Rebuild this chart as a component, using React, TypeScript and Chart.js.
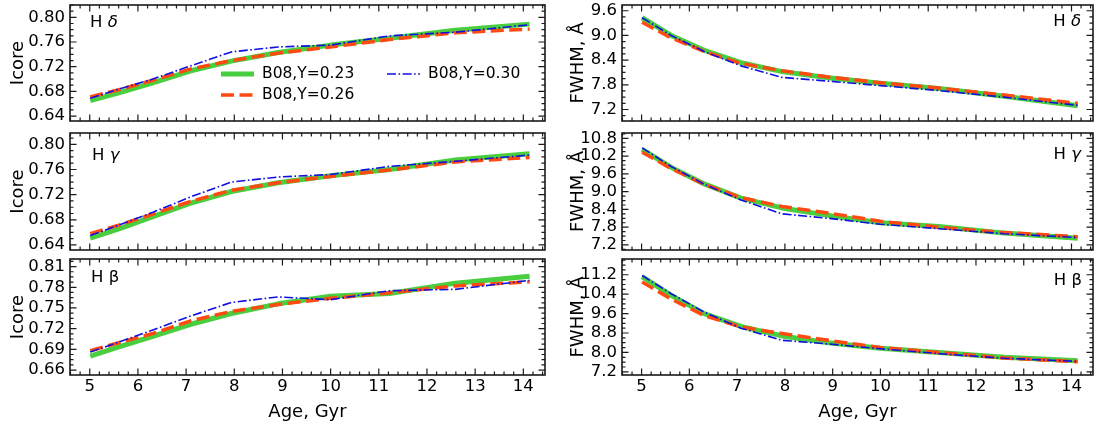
import { useEffect, useRef } from "react";
import { Chart, registerables, ChartConfiguration, Plugin } from "chart.js";

Chart.register(...registerables);
Chart.defaults.font.family = '"DejaVu Sans", sans-serif';

// ages of the model grid, Gyr
const ageGyr = [5.01, 5.62, 6.31, 7.08, 7.94, 8.91, 10.0, 11.22, 12.59, 14.13];
const seriesLabels = ["B08,Y=0.23", "B08,Y=0.26", "B08,Y=0.30"];

// Icore
const icoreDelta23 = [0.665, 0.678, 0.694, 0.713, 0.729, 0.743, 0.755, 0.766, 0.779, 0.789];
const icoreDelta26 = [0.671, 0.683, 0.698, 0.716, 0.730, 0.742, 0.752, 0.764, 0.775, 0.781];
const icoreDelta30 = [0.669, 0.684, 0.700, 0.721, 0.744, 0.752, 0.755, 0.770, 0.776, 0.788];

const icoreGamma23 = [0.651, 0.666, 0.685, 0.706, 0.725, 0.739, 0.750, 0.760, 0.775, 0.785];
const icoreGamma26 = [0.658, 0.672, 0.689, 0.709, 0.727, 0.739, 0.749, 0.759, 0.772, 0.779];
const icoreGamma30 = [0.655, 0.672, 0.692, 0.716, 0.740, 0.748, 0.752, 0.765, 0.773, 0.783];

const icoreBeta23 = [0.680, 0.694, 0.709, 0.726, 0.742, 0.756, 0.767, 0.771, 0.786, 0.796];
const icoreBeta26 = [0.688, 0.700, 0.713, 0.731, 0.745, 0.755, 0.764, 0.772, 0.782, 0.788];
const icoreBeta30 = [0.686, 0.701, 0.718, 0.738, 0.758, 0.766, 0.762, 0.775, 0.777, 0.790];

// FWHM, Angstrom
const fwhmDelta23 = [9.43, 9.0, 8.64, 8.34, 8.12, 7.97, 7.84, 7.71, 7.52, 7.29];
const fwhmDelta26 = [9.32, 8.94, 8.61, 8.32, 8.14, 7.99, 7.85, 7.72, 7.55, 7.35];
const fwhmDelta30 = [9.43, 9.0, 8.61, 8.26, 7.98, 7.89, 7.78, 7.66, 7.5, 7.3];

const fwhmGamma23 = [10.43, 9.82, 9.26, 8.78, 8.45, 8.2, 7.95, 7.82, 7.6, 7.43];
const fwhmGamma26 = [10.33, 9.78, 9.25, 8.8, 8.5, 8.28, 8.0, 7.8, 7.62, 7.48];
const fwhmGamma30 = [10.48, 9.85, 9.25, 8.72, 8.25, 8.1, 7.9, 7.75, 7.58, 7.45];

const fwhmBeta23 = [11.12, 10.35, 9.6, 9.07, 8.68, 8.4, 8.17, 8.0, 7.8, 7.66];
const fwhmBeta26 = [10.9, 10.2, 9.52, 9.05, 8.78, 8.5, 8.2, 8.0, 7.77, 7.62];
const fwhmBeta30 = [11.17, 10.42, 9.66, 9.0, 8.5, 8.35, 8.15, 7.95, 7.76, 7.63];

// tick labels
const ageTicks = [5, 6, 7, 8, 9, 10, 11, 12, 13, 14];
const icoreTicks = [0.64, 0.68, 0.72, 0.76, 0.8];
const icoreBetaTicks = [0.66, 0.69, 0.72, 0.75, 0.78, 0.81];
const fwhmDeltaTicks = [7.2, 7.8, 8.4, 9.0, 9.6];
const fwhmGammaTicks = [7.2, 7.8, 8.4, 9.0, 9.6, 10.2, 10.8];
const fwhmBetaTicks = [7.2, 8.0, 8.8, 9.6, 10.4, 11.2];

const FONT = 16.5;
const TITLE_FONT = 18;
const lineStyles = [
  { color: "rgb(72,206,62)", width: 5, dash: [] as number[], order: 3 },
  { color: "#ff4a12", width: 3.5, dash: [13, 5.5], order: 2 },
  { color: "#1010e0", width: 1.6, dash: [9, 2.5, 1.6, 2.5], order: 1 },
];

const COLS = [
  { left: 0, width: 560, axisW: 70, padR: 15, titlePad: 8 },
  { left: 560, width: 540, axisW: 62, padR: 7, titlePad: 8 },
];
const ROWS = [
  { top: 5, bottom: 121 },
  { top: 133, bottom: 250 },
  { top: 259, bottom: 375 },
];
const PAD = 25;
const PAGE_H = 428;

type PanelDef = {
  key: string;
  col: number;
  row: number;
  series: number[][];
  yMin: number;
  yMax: number;
  yTicks: number[];
  yMinor: number;
  decimals: number;
  yTitle: string;
  label: [string, boolean][];
  labelRight: boolean;
  labelDx: number;
  labelDy: number;
  legend?: boolean;
};

const panels: PanelDef[] = [
  { key: "tl", col: 0, row: 0, series: [icoreDelta23, icoreDelta26, icoreDelta30], yMin: 0.632, yMax: 0.82, yTicks: icoreTicks, yMinor: 0.01, decimals: 2, yTitle: "Icore", label: [["H ", false], ["δ", true]], labelRight: false, labelDx: 20, labelDy: 18, legend: true },
  { key: "ml", col: 0, row: 1, series: [icoreGamma23, icoreGamma26, icoreGamma30], yMin: 0.632, yMax: 0.818, yTicks: icoreTicks, yMinor: 0.01, decimals: 2, yTitle: "Icore", label: [["H ", false], ["γ", true]], labelRight: false, labelDx: 22, labelDy: 23 },
  { key: "bl", col: 0, row: 2, series: [icoreBeta23, icoreBeta26, icoreBeta30], yMin: 0.6528, yMax: 0.821, yTicks: icoreBetaTicks, yMinor: 0.0075, decimals: 2, yTitle: "Icore", label: [["H β", false]], labelRight: false, labelDx: 21, labelDy: 19 },
  { key: "tr", col: 1, row: 0, series: [fwhmDelta23, fwhmDelta26, fwhmDelta30], yMin: 6.92, yMax: 9.74, yTicks: fwhmDeltaTicks, yMinor: 0.15, decimals: 1, yTitle: "FWHM, Å", label: [["H ", false], ["δ", true]], labelRight: true, labelDx: 12, labelDy: 17 },
  { key: "mr", col: 1, row: 1, series: [fwhmGamma23, fwhmGamma26, fwhmGamma30], yMin: 7.03, yMax: 10.98, yTicks: fwhmGammaTicks, yMinor: 0.15, decimals: 1, yTitle: "FWHM, Å", label: [["H ", false], ["γ", true]], labelRight: true, labelDx: 12, labelDy: 22 },
  { key: "br", col: 1, row: 2, series: [fwhmBeta23, fwhmBeta26, fwhmBeta30], yMin: 7.07, yMax: 11.85, yTicks: fwhmBetaTicks, yMinor: 0.2, decimals: 1, yTitle: "FWHM, Å", label: [["H β", false]], labelRight: true, labelDx: 11, labelDy: 22 },
];

const X_MIN = 4.59;
const X_MAX = 14.45;

function minorValues(min: number, max: number, step: number, majors: number[]) {
  const out: number[] = [];
  for (let k = Math.ceil(min / step - 1e-9); k * step <= max + 1e-9; k++) {
    const v = k * step;
    if (!majors.some((m) => Math.abs(m - v) < step / 10)) out.push(v);
  }
  return out;
}

function makeFramePlugin(def: PanelDef): Plugin {
  return {
    id: "frameTicks",
    afterDraw(chart) {
      const { ctx, chartArea: a } = chart;
      const xs = chart.scales.x;
      const ys = chart.scales.y;
      ctx.save();
      ctx.strokeStyle = "#1a1a1a";
      ctx.lineWidth = 1.2;
      ctx.beginPath();
      const xTick = (v: number, len: number) => {
        const p = xs.getPixelForValue(v);
        ctx.moveTo(p, a.bottom);
        ctx.lineTo(p, a.bottom - len);
        ctx.moveTo(p, a.top);
        ctx.lineTo(p, a.top + len);
      };
      const yTick = (v: number, len: number) => {
        const p = ys.getPixelForValue(v);
        ctx.moveTo(a.left, p);
        ctx.lineTo(a.left + len, p);
        ctx.moveTo(a.right, p);
        ctx.lineTo(a.right - len, p);
      };
      ageTicks.forEach((v) => xTick(v, 6.5));
      minorValues(X_MIN, X_MAX, 0.2, ageTicks).forEach((v) => xTick(v, 3.5));
      def.yTicks.forEach((v) => yTick(v, 6.5));
      minorValues(def.yMin, def.yMax, def.yMinor, def.yTicks).forEach((v) => yTick(v, 3.5));
      ctx.stroke();

      ctx.lineWidth = 1.6;
      ctx.strokeRect(a.left, a.top, a.right - a.left, a.bottom - a.top);

      // panel label
      ctx.fillStyle = "#000";
      ctx.textBaseline = "middle";
      ctx.textAlign = "left";
      const fontOf = (it: boolean) => `${it ? "italic " : ""}${FONT}px "DejaVu Sans"`;
      let total = 0;
      def.label.forEach(([t, it]) => {
        ctx.font = fontOf(it);
        total += ctx.measureText(t).width;
      });
      let x = def.labelRight ? a.right - def.labelDx - total : a.left + def.labelDx;
      def.label.forEach(([t, it]) => {
        ctx.font = fontOf(it);
        ctx.fillText(t, x, a.top + def.labelDy);
        x += ctx.measureText(t).width;
      });

      if (def.legend) {
        const spots = [
          { i: 0, x: a.left + 151, y: a.top + 69 },
          { i: 1, x: a.left + 151, y: a.top + 90 },
          { i: 2, x: a.left + 317, y: a.top + 69 },
        ];
        spots.forEach(({ i, x: lx, y: ly }) => {
          const st = lineStyles[i];
          ctx.save();
          ctx.strokeStyle = st.color;
          ctx.lineWidth = st.width;
          ctx.setLineDash(st.dash);
          ctx.beginPath();
          ctx.moveTo(lx, ly);
          ctx.lineTo(lx + 33, ly);
          ctx.stroke();
          ctx.restore();
          ctx.font = `15.5px "DejaVu Sans"`;
          ctx.fillStyle = "#000";
          ctx.fillText(seriesLabels[i], lx + 41, ly);
        });
      }
      ctx.restore();
    },
  };
}

function Panel({ def }: { def: PanelDef }) {
  const chartRef = useRef<HTMLCanvasElement>(null);
  const col = COLS[def.col];
  const row = ROWS[def.row];
  const isBottom = def.row === 2;
  const top = row.top - PAD;
  const height = isBottom ? PAGE_H - top : row.bottom + PAD - top;

  useEffect(() => {
    if (!chartRef.current) return;
    const ctx = chartRef.current.getContext("2d");
    if (!ctx) return;

    const tickFont = { size: FONT };
    const titleFont = { size: TITLE_FONT };
    const config: ChartConfiguration<"line"> = {
      type: "line",
      data: {
        datasets: def.series.map((vals, i) => ({
          label: seriesLabels[i],
          data: ageGyr.map((x, j) => ({ x, y: vals[j] })),
          borderColor: lineStyles[i].color,
          borderWidth: lineStyles[i].width,
          borderDash: lineStyles[i].dash,
          order: lineStyles[i].order,
          pointRadius: 0,
          tension: 0,
          fill: false,
          borderCapStyle: "butt",
          borderJoinStyle: "round",
        })),
      },
      options: {
        animation: false,
        responsive: true,
        maintainAspectRatio: false,
        events: [],
        layout: {
          padding: { top: PAD, bottom: isBottom ? 0 : PAD, left: 0, right: col.padR },
        },
        plugins: {
          legend: { display: false },
          tooltip: { enabled: false },
        },
        scales: {
          x: {
            type: "linear",
            min: X_MIN,
            max: X_MAX,
            grid: { display: false, drawTicks: false },
            border: { display: false },
            ticks: {
              display: isBottom,
              autoSkip: false,
              padding: 2,
              color: "#000",
              font: tickFont,
              maxRotation: 0,
              callback: (v) => String(v),
            },
            afterBuildTicks: (s) => {
              s.ticks = ageTicks.map((value) => ({ value }));
            },
            afterFit: (s) => {
              s.height = isBottom ? PAGE_H - ROWS[2].bottom : 0;
            },
            title: {
              display: isBottom,
              text: "Age, Gyr",
              color: "#000",
              font: titleFont,
              padding: { top: 0, bottom: 5 },
            },
          },
          y: {
            type: "linear",
            min: def.yMin,
            max: def.yMax,
            grid: { display: false, drawTicks: false },
            border: { display: false },
            ticks: {
              autoSkip: false,
              padding: 5,
              color: "#000",
              font: tickFont,
              callback: (v) => Number(v).toFixed(def.decimals),
            },
            afterBuildTicks: (s) => {
              s.ticks = def.yTicks.map((value) => ({ value }));
            },
            afterFit: (s) => {
              s.width = col.axisW;
            },
            title: {
              display: true,
              text: def.yTitle,
              color: "#000",
              font: titleFont,
              padding: { top: col.titlePad, bottom: 0 },
            },
          },
        },
      },
      plugins: [makeFramePlugin(def)],
    };

    const chart = new Chart(ctx, config);
    return () => {
      chart.destroy();
    };
  }, [def]);

  return (
    <div style={{ position: "absolute", left: col.left, top, width: col.width, height }}>
      <canvas ref={chartRef} />
    </div>
  );
}

export default function App() {
  return (
    <div
      style={{
        position: "fixed",
        left: 0,
        top: 0,
        width: 1100,
        height: PAGE_H,
        background: "#fff",
        overflow: "hidden",
      }}
    >
      {panels.map((p) => (
        <Panel key={p.key} def={p} />
      ))}
    </div>
  );
}
